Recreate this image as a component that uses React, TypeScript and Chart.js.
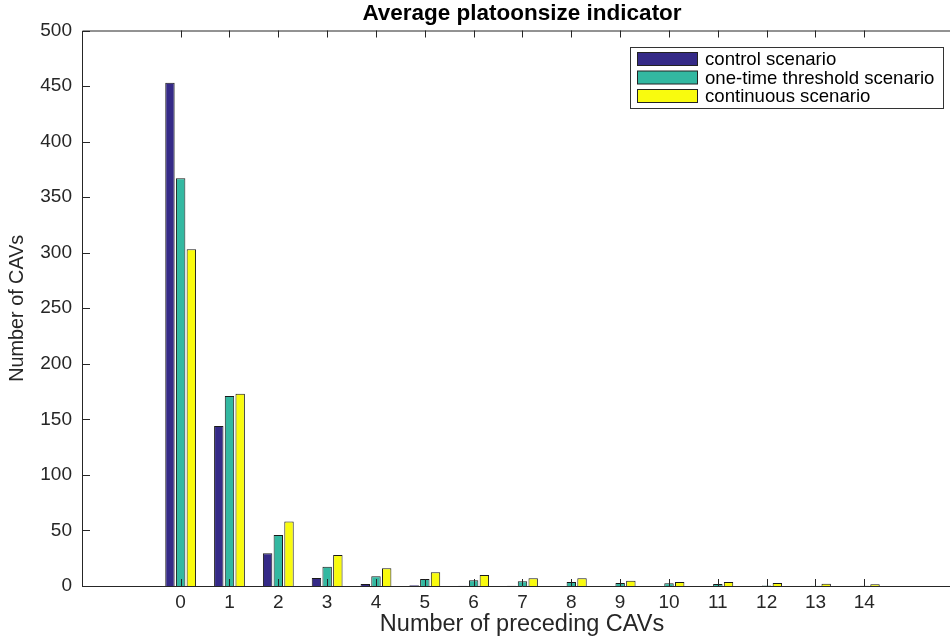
import React, { useEffect, useRef } from 'react';
import { Chart, registerables } from 'chart.js';

Chart.register(...registerables);

const categories = [0, 1, 2, 3, 4, 5, 6, 7, 8, 9, 10, 11, 12, 13, 14];
const controlScenario = [453, 144, 29.4, 7.2, 1.8, 0.7, 0.3, 0.2, 0, 0, 0, 0, 0, 0, 0];
const oneTimeThreshold = [367, 171, 46, 17.4, 8.7, 6.3, 5.1, 4.2, 3.6, 2.7, 2.4, 1.8, 0.5, 0.3, 0.2];
const continuousScenario = [303, 173, 58, 28, 16, 12.3, 9.9, 6.9, 6.9, 4.8, 3.6, 3.6, 2.7, 2.1, 1.5];
const yTicks = [0, 50, 100, 150, 200, 250, 300, 350, 400, 450, 500];
const seriesNames = ['control scenario', 'one-time threshold scenario', 'continuous scenario'];
const seriesColors = ['#352a87', '#33b8a1', '#f9fb0e'];

const FONT = "'Liberation Sans', Arial, Helvetica, sans-serif";
const AXIS = '#262626';

const boxPlugin = {
  id: 'matlabBox',
  afterDraw(chart: any) {
    const { ctx, chartArea, scales } = chart;
    const { left, right, top, bottom } = chartArea;
    const x = scales.x;
    const y = scales.y;
    ctx.save();
    ctx.strokeStyle = AXIS;
    ctx.lineWidth = 1;
    ctx.beginPath();
    ctx.moveTo(left + 0.5, top + 0.5);
    ctx.lineTo(right, top + 0.5);
    ctx.moveTo(left + 0.5, top + 0.5);
    ctx.lineTo(left + 0.5, bottom + 0.5);
    ctx.lineTo(right, bottom + 0.5);
    for (const v of categories) {
      const px = Math.round(x.getPixelForValue(v)) + 0.5;
      ctx.moveTo(px, bottom);
      ctx.lineTo(px, bottom - 7);
      ctx.moveTo(px, top);
      ctx.lineTo(px, top + 7);
    }
    for (const v of yTicks) {
      const py = Math.round(y.getPixelForValue(v)) + 0.5;
      ctx.moveTo(left, py);
      ctx.lineTo(left + 8, py);
    }
    ctx.stroke();
    ctx.restore();
  },
};

const legendPlugin = {
  id: 'matlabLegend',
  afterDraw(chart: any) {
    const { ctx } = chart;
    const bx = 630.5, by = 47.5, bw = 313, bh = 61;
    ctx.save();
    ctx.fillStyle = '#ffffff';
    ctx.fillRect(bx, by, bw, bh);
    ctx.strokeStyle = '#333333';
    ctx.lineWidth = 1;
    ctx.strokeRect(bx, by, bw, bh);
    const rows = [59, 77.5, 96];
    chart.data.datasets.forEach((ds: any, i: number) => {
      const yc = rows[i];
      ctx.fillStyle = ds.backgroundColor;
      ctx.fillRect(637.5, yc - 6.5, 60, 13);
      ctx.strokeStyle = '#222222';
      ctx.strokeRect(637.5, yc - 6.5, 60, 13);
      ctx.fillStyle = '#000000';
      ctx.font = `18.6px ${FONT}`;
      ctx.textBaseline = 'middle';
      ctx.textAlign = 'left';
      ctx.fillText(ds.label, 705, yc + 1);
    });
    ctx.restore();
  },
};

export default function App() {
  const canvasRef = useRef<HTMLCanvasElement | null>(null);

  useEffect(() => {
    const canvas = canvasRef.current;
    if (!canvas) return;
    const seriesValues = [controlScenario, oneTimeThreshold, continuousScenario];
    const chart = new Chart(canvas, {
      type: 'bar',
      data: {
        datasets: seriesValues.map((vals, i) => ({
          label: seriesNames[i],
          data: vals.map((v, j) => ({ x: categories[j], y: v })),
          backgroundColor: seriesColors[i],
          borderColor: '#1a1a1a',
          borderWidth: 1,
          categoryPercentage: 0.657,
          barPercentage: 0.88,
        })),
      },
      options: {
        responsive: false,
        animation: false,
        devicePixelRatio: 1,
        layout: { padding: 0 },
        plugins: {
          legend: { display: false },
          tooltip: { enabled: false },
          title: {
            display: true,
            text: 'Average platoonsize indicator',
            color: '#000000',
            font: { family: FONT, size: 22.5, weight: 'bold' },
            padding: { top: 0, bottom: 3.5 },
            fullSize: false,
          },
        },
        scales: {
          x: {
            type: 'linear',
            offset: false,
            min: -2.02,
            max: 16,
            afterBuildTicks: (s: any) => {
              s.ticks = categories.map((v) => ({ value: v }));
            },
            afterFit: (s: any) => {
              s.height = 53;
            },
            ticks: {
              color: AXIS,
              font: { family: FONT, size: 19 },
              padding: 5,
              autoSkip: false,
              maxRotation: 0,
              callback: (v: any) => String(v),
            },
            grid: { display: false, drawTicks: false, offset: false },
            border: { display: false },
            title: {
              display: true,
              text: 'Number of preceding CAVs',
              color: AXIS,
              font: { family: FONT, size: 23.5 },
              padding: { top: 0, bottom: 0 },
            },
          },
          y: {
            min: 0,
            max: 500,
            afterBuildTicks: (s: any) => {
              s.ticks = yTicks.map((v) => ({ value: v }));
            },
            afterFit: (s: any) => {
              s.width = 82;
            },
            ticks: {
              color: AXIS,
              font: { family: FONT, size: 19 },
              padding: 10,
              callback: (v: any) => String(v),
            },
            grid: { display: false, drawTicks: false },
            border: { display: false },
            title: {
              display: true,
              text: 'Number of CAVs',
              color: AXIS,
              font: { family: FONT, size: 19.8 },
              padding: { top: 6, bottom: 0 },
            },
          },
        },
      },
      plugins: [boxPlugin, legendPlugin],
    } as any);
    return () => chart.destroy();
  }, []);

  return (
    <div style={{ position: 'absolute', left: 0, top: 0, width: 950, height: 639, overflow: 'hidden', background: '#ffffff' }}>
      <canvas ref={canvasRef} width={962} height={639} style={{ display: 'block' }} />
    </div>
  );
}
